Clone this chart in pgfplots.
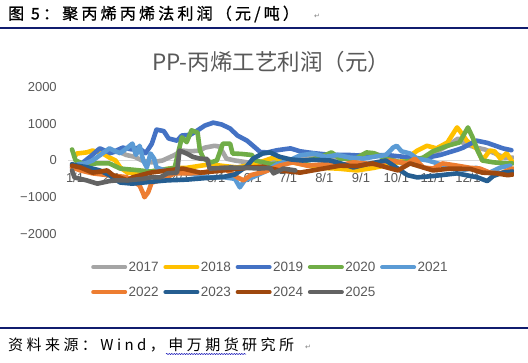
\documentclass[border=0pt]{standalone}
\usepackage{pgfplots}
\pgfplotsset{compat=1.18}
\usepackage{fontspec}
\setmainfont{Liberation Sans}
\newfontfamily\cjk{Noto Sans CJK SC}
\newfontfamily\hdr[LetterSpace=20,FakeBold=1]{Noto Sans CJK SC}
\newfontfamily\ftr[LetterSpace=23]{Noto Sans CJK SC}
\newfontfamily\dejavu{DejaVu Sans}
\usetikzlibrary{decorations.pathmorphing}
\definecolor{cA}{HTML}{A5A5A5}
\definecolor{cB}{HTML}{FFC000}
\definecolor{cC}{HTML}{4472C4}
\definecolor{cD}{HTML}{70AD47}
\definecolor{cE}{HTML}{5B9BD5}
\definecolor{cF}{HTML}{ED7D31}
\definecolor{cG}{HTML}{255E91}
\definecolor{cH}{HTML}{9E480E}
\definecolor{cI}{HTML}{636363}
\definecolor{txt}{HTML}{595959}
\definecolor{navy}{HTML}{101C6E}
\pgfplotsset{geom/.style={at={(68.4pt,128pt)}, anchor=south west,
  scale only axis, width=445.4pt, height=147pt,
  xmin=-3, xmax=366, ymin=-2000, ymax=2000},
  lw/.style={line width=4.6pt, line join=round, line cap=round}}
\begin{document}
\begin{tikzpicture}
\useasboundingbox (0pt,0pt) rectangle (528pt,362pt);
\fill[white] (0pt,0pt) rectangle (528pt,362pt);
% header
\node[anchor=west,inner sep=0pt] at (8pt,348pt) {\hdr\fontsize{16}{16}\selectfont 图 5：聚丙烯丙烯法利润（元/吨）};
\node[anchor=west,inner sep=0pt,text=gray] at (314pt,346pt) {\dejavu\fontsize{7}{7}\selectfont ↵};
\draw[navy,line width=2pt] (0pt,334pt) -- (528pt,334pt);
% footer
\draw[navy,line width=2pt] (0pt,34pt) -- (528pt,34pt);
\node[anchor=west,inner sep=0pt] at (8pt,17pt) {\ftr\fontsize{15}{15}\selectfont 资料来源：Wind，申万期货研究所};
\node[anchor=west,inner sep=0pt,text=gray] at (305pt,15pt) {\dejavu\fontsize{7}{7}\selectfont ↵};
\draw[blue!70!black,line width=0.5pt,decorate,decoration={snake,amplitude=0.6pt,segment length=2.5pt}] (166pt,8pt) -- (246pt,8pt);
% chart title
\node[text=txt,inner sep=0pt] at (271pt,300pt) {\cjk\fontsize{22.5}{22.5}\selectfont PP-丙烯工艺利润（元）};
% axis layer (behind the data)
\begin{axis}[geom,
  axis x line=middle, axis y line=left,
  x axis line style={-, draw=black!15, line width=0.8pt},
  y axis line style={draw=none},
  xtick={2.5,32.7,60,90.2,119.5,149.7,179,209,239.4,268.7,298.9,328},
  xticklabels={1/1,2/1,3/1,4/1,5/1,6/1,7/1,8/1,9/1,10/1,11/1,12/1},
  ytick={-2000,-1000,0,1000,2000},
  yticklabels={−2000,−1000,0,1000,2000},
  tick style={draw=none},
  ticklabel style={font=\fontsize{13}{13}\selectfont, text=txt},
  xticklabel style={yshift=-7pt},
  yticklabel style={xshift=-6pt},
]
\end{axis}
% data
\begin{axis}[geom, hide axis,
  legend columns=5,
  legend image code/.code={\draw[#1,line width=4pt,line cap=round] (0pt,0pt) -- (32pt,0pt);},
  legend style={at={(0.044,-0.163)}, anchor=north west, draw=none, fill=none,
    font=\fontsize{13.5}{14}\selectfont, text=txt,
    nodes={inner sep=1.5pt},
    /tikz/every even column/.append style={column sep=3.2pt},
    /tikz/row sep=11pt},
]
% 2017
\addplot[cA,lw] coordinates {(30,200)(38,250)(45,150)(52,100)(58,0)(66,-50)(75,0)(85,150)(91,270)(98,250)(106,270)(110,350)(118,400)(122,380)(125,220)(128,50)(135,0)(145,-50)(155,-100)(165,-50)(175,0)(190,50)(205,100)(220,80)(240,150)(250,190)(260,100)(275,-100)(290,50)(300,200)(311,400)(320,600)(325,450)(335,350)(342,300)(350,200)(358,80)(365,80)};
\addlegendentry{2017}
% 2018
\addplot[cB,lw] coordinates {(2,100)(4,190)(12,220)(17,270)(25,200)(31,80)(36,0)(40,-190)(46,-330)(55,-350)(65,-300)(75,-250)(85,-200)(95,-200)(105,-150)(115,-100)(123,-140)(137,-190)(150,-100)(160,0)(167,80)(175,0)(190,-100)(205,-200)(220,-220)(236,-270)(250,-200)(265,-100)(275,0)(286,270)(294,400)(302,330)(311,490)(319,900)(323,730)(327,540)(336,300)(340,0)(346,270)(350,250)(355,50)(360,200)(365,-50)};
\addlegendentry{2018}
% 2019
\addplot[cC,lw] coordinates {(0,-190)(8,-80)(15,100)(23,330)(32,200)(42,350)(50,300)(55,350)(61,200)(66,450)(70,840)(76,800)(80,600)(87,540)(91,680)(98,700)(104,820)(110,950)(117,1030)(124,980)(131,870)(137,680)(145,540)(150,400)(156,230)(162,220)(170,280)(181,330)(189,250)(200,200)(215,150)(230,150)(245,120)(260,150)(275,100)(290,50)(305,150)(320,300)(324,350)(335,540)(344,480)(357,330)(364,280)};
\addlegendentry{2019}
% 2020
\addplot[cD,lw] coordinates {(0,300)(3,0)(10,-100)(20,-80)(31,-80)(40,-220)(50,-250)(56,-270)(65,-300)(75,-250)(85,-200)(91,630)(95,500)(99,820)(104,760)(106,270)(109,50)(115,-50)(120,0)(125,460)(131,460)(133,190)(140,180)(149,150)(152,0)(165,-100)(180,-50)(195,0)(205,80)(215,220)(222,50)(235,50)(244,220)(250,200)(260,50)(272,-50)(282,0)(291,80)(299,250)(311,400)(321,490)(328,900)(332,620)(336,270)(340,0)(349,-50)(361,-80)(365,-80)};
\addlegendentry{2020}
% 2021
\addplot[cE,lw] coordinates {(5,-100)(11,-80)(17,0)(23,140)(31,330)(36,250)(40,200)(46,350)(50,460)(53,150)(56,400)(59,0)(62,-190)(65,190)(68,50)(70,-190)(75,-250)(85,-300)(95,-350)(106,-400)(114,-460)(125,-450)(135,-500)(139,-730)(143,-540)(150,-450)(160,-300)(170,-100)(180,0)(189,140)(200,190)(210,100)(220,150)(230,80)(241,50)(250,100)(260,150)(266,350)(269,400)(273,250)(280,190)(286,50)(295,0)(305,-100)(315,-200)(325,-250)(335,-200)(340,-270)(346,-330)(355,-190)(363,-140)};
\addlegendentry{2021}
% 2022
\addplot[cF,lw] coordinates {(0,-190)(7,-270)(17,-350)(30,-400)(45,-450)(56,-680)(59,-900)(60,-1000)(63,-870)(66,-600)(73,-540)(85,-350)(97,-350)(109,-330)(118,-250)(125,-190)(132,-350)(137,-460)(142,-540)(148,-400)(160,-300)(172,-140)(183,-50)(195,-140)(210,-100)(220,-140)(233,-50)(250,-100)(263,0)(278,-80)(284,50)(291,-190)(299,-220)(307,-80)(319,-140)(330,-200)(338,-220)(346,-330)(355,-350)(361,-270)(365,-220)};
\addlegendentry{2022}
% 2023
\addplot[cG,lw] coordinates {(0,-100)(4,-140)(12,-180)(23,-270)(31,-400)(40,-600)(50,-630)(65,-580)(79,-540)(95,-520)(110,-480)(125,-450)(135,-380)(145,-150)(150,50)(155,140)(158,190)(164,220)(172,100)(181,30)(191,0)(200,20)(214,0)(225,-100)(233,-190)(244,-100)(260,0)(269,-200)(278,-400)(286,-460)(300,-420)(319,-350)(336,-460)(344,-560)(349,-420)(357,-330)(365,-300)};
\addlegendentry{2023}
% 2024
\addplot[cH,lw] coordinates {(0,-140)(7,-190)(17,-330)(24,-300)(29,-270)(34,-400)(46,-540)(50,-460)(65,-330)(79,-270)(92,-220)(106,-330)(120,-290)(133,-240)(148,-190)(158,-170)(172,-270)(189,-330)(208,-220)(222,-140)(236,-150)(249,-80)(261,-190)(270,-270)(280,-80)(286,-140)(299,-270)(313,-220)(330,-230)(340,-330)(352,-350)(361,-400)(365,-380)};
\addlegendentry{2024}
% 2025
\addplot[cI,lw] coordinates {(0,-270)(2,-460)(12,-540)(21,-630)(31,-560)(37,-540)(46,-540)(59,-500)(65,-460)(73,-460)(79,-350)(87,-330)(89,270)(95,190)(100,100)(106,50)(112,40)(114,-220)(125,-200)(131,-190)(145,-200)(155,-220)(164,-200)(167,-350)(175,-220)(185,-270)};
\addlegendentry{2025}
\end{axis}
\end{tikzpicture}
\end{document}
